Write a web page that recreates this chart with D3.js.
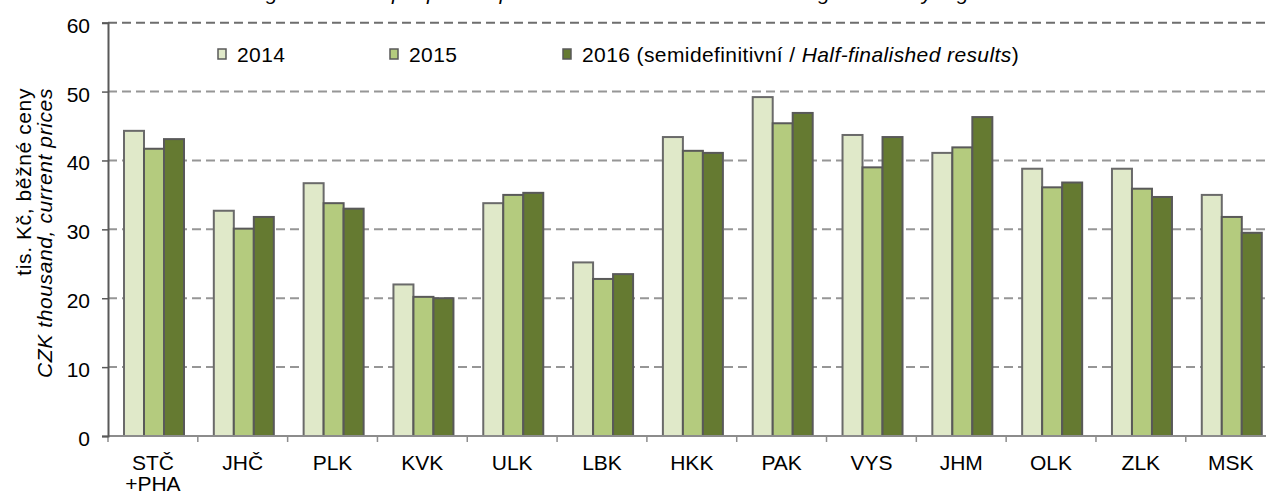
<!DOCTYPE html>
<html>
<head>
<meta charset="utf-8">
<script src="https://cdn.jsdelivr.net/npm/d3@7"></script>
<style>
  body { margin: 0; background: #fff; }
  svg { display: block; font-family: "Liberation Sans", Arial, sans-serif; }
</style>
</head>
<body>
<div id="chart"></div>
<script>
// data
var regions = ["STČ\n+PHA", "JHČ", "PLK", "KVK", "ULK", "LBK", "HKK", "PAK", "VYS", "JHM", "OLK", "ZLK", "MSK"];
var years = ["2014", "2015", "2016"];
var v2014 = [44.3, 32.7, 36.7, 22.0, 33.8, 25.2, 43.4, 49.2, 43.7, 41.1, 38.8, 38.8, 35.0];
var v2015 = [41.7, 30.1, 33.8, 20.2, 35.0, 22.8, 41.4, 45.4, 39.0, 41.9, 36.1, 35.9, 31.8];
var v2016 = [43.1, 31.8, 33.0, 20.0, 35.3, 23.5, 41.1, 46.9, 43.4, 46.3, 36.8, 34.7, 29.5];
var yTicks = [0, 10, 20, 30, 40, 50, 60];
var colors = ["#e0e9c9", "#b4cb7e", "#657a31"];

var series = [v2014, v2015, v2016];

var W = 1266, H = 493;
var plotLeft = 108, plotTop = 22.7, plotBottom = 436, plotRight = 1275.6;

var svg = d3.select("#chart").append("svg")
  .attr("width", W)
  .attr("height", H);

var x = d3.scaleBand().domain(regions).range([plotLeft, plotRight]);
var xs = d3.scaleBand().domain(years).range([16, 76]);
var y = d3.scaleLinear().domain([0, 60]).range([plotBottom, plotTop]);

// title, cut off at the top edge
svg.append("text")
  .attr("x", 252)
  .attr("y", 0)
  .style("font-size", "21px")
  .style("font-style", "italic")
  .attr("fill", "#000")
  .text("Agricultural output per 1 equivalent worker of total labour in agriculture by region");

// gridlines
svg.append("g")
  .selectAll("line")
  .data(yTicks.filter(function (d) { return d > 0; }))
  .enter()
  .append("line")
    .attr("x1", plotLeft)
    .attr("x2", W)
    .attr("y1", function (d) { return y(d); })
    .attr("y2", function (d) { return y(d); })
    .attr("stroke", function (d) { return d == 60 ? "#6e6e6e" : "#969696"; })
    .attr("stroke-width", 2)
    .attr("stroke-dasharray", "9,5");

// bars
var groups = svg.append("g")
  .selectAll("g")
  .data(series)
  .enter()
  .append("g")
    .attr("fill", function (d, i) { return colors[i]; });

groups.selectAll("rect")
  .data(function (d, i) {
    return d.map(function (v, j) { return { region: regions[j], year: years[i], value: v }; });
  })
  .enter()
  .append("rect")
    .attr("x", function (d) { return x(d.region) + xs(d.year); })
    .attr("y", function (d) { return y(d.value); })
    .attr("width", xs.bandwidth())
    .attr("height", function (d) { return y(0) - y(d.value); })
    .attr("stroke", function (d) { return d.year == "2014" ? "#6a6a6a" : "#595959"; })
    .attr("stroke-width", 2);

// x axis
var xAxis = svg.append("g")
  .attr("transform", "translate(0," + plotBottom + ")");

xAxis.append("line")
  .attr("x1", plotLeft)
  .attr("x2", W)
  .attr("stroke", "#8c8c8c")
  .attr("stroke-width", 2);

xAxis.selectAll(".tick")
  .data(regions)
  .enter()
  .append("line")
    .attr("class", "tick")
    .attr("x1", function (d) { return x(d); })
    .attr("x2", function (d) { return x(d); })
    .attr("y1", 0)
    .attr("y2", 6)
    .attr("stroke", "#8c8c8c")
    .attr("stroke-width", 1.5);

var xLabels = xAxis.selectAll(".lab")
  .data(regions)
  .enter()
  .append("text")
    .attr("class", "lab")
    .attr("text-anchor", "middle")
    .style("font-size", "21px")
    .attr("fill", "#000");

xLabels.selectAll("tspan")
  .data(function (d) { return d.split("\n").map(function (t) { return { r: d, t: t }; }); })
  .enter()
  .append("tspan")
    .attr("x", function (d) { return x(d.r) + x.bandwidth() / 2; })
    .attr("y", function (d, i) { return 34 + i * 21; })
    .text(function (d) { return d.t; });

// y axis
var yAxis = svg.append("g")
  .attr("transform", "translate(" + plotLeft + ",0)")
  .call(d3.axisLeft(y).tickValues(yTicks).tickSize(6).tickPadding(12));

yAxis.select(".domain")
  .attr("stroke", "#595959")
  .attr("stroke-width", 2);
yAxis.selectAll(".tick line")
  .attr("stroke", "#595959")
  .attr("stroke-width", 1.5);
yAxis.selectAll(".tick text")
  .attr("dy", "0.45em")
  .style("font-size", "21px")
  .style("font-family", "'Liberation Sans', Arial, sans-serif")
  .attr("fill", "#000");

// y axis title, two lines
var yTitle = svg.append("text")
  .attr("transform", "translate(0,88) rotate(-90)")
  .attr("text-anchor", "end")
  .style("font-size", "21px")
  .style("letter-spacing", "0.6px")
  .attr("fill", "#000");
yTitle.append("tspan").attr("x", 0).attr("y", 31).text("tis. Kč, běžné ceny");
yTitle.append("tspan").attr("x", 0).attr("y", 52).style("font-style", "italic").text("CZK thousand, current prices");

// legend
var legendX = [218, 390, 563];
var legend = svg.append("g")
  .selectAll("g")
  .data(years)
  .enter()
  .append("g")
    .attr("transform", function (d, i) { return "translate(" + legendX[i] + ",49)"; });

legend.append("rect")
  .attr("width", 8)
  .attr("height", 10)
  .attr("fill", function (d, i) { return colors[i]; })
  .attr("stroke", "#595959")
  .attr("stroke-width", 1.5);

var legText = legend.append("text")
  .attr("x", 19)
  .attr("y", 13)
  .style("font-size", "21px")
  .style("letter-spacing", "0.4px")
  .attr("fill", "#000");

legText.append("tspan").text(function (d) { return d == "2016" ? "2016 (semidefinitivní / " : d; });
legText.filter(function (d) { return d == "2016"; })
  .append("tspan").style("font-style", "italic").text("Half-finalished results");
legText.filter(function (d) { return d == "2016"; })
  .append("tspan").text(")");
</script>
</body>
</html>
